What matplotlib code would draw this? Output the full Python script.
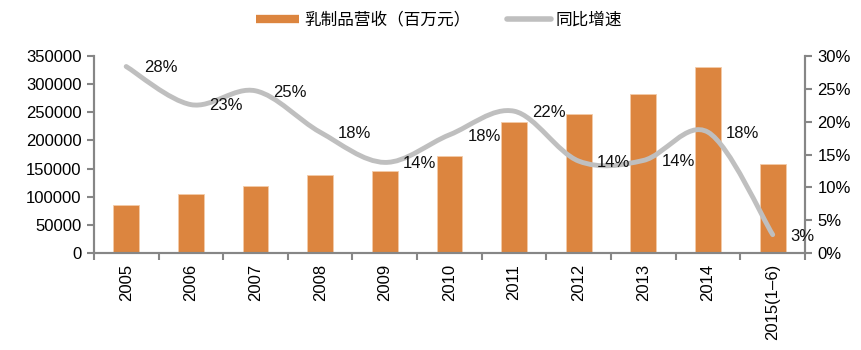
import matplotlib
matplotlib.use("Agg")
import matplotlib.pyplot as plt
from matplotlib.path import Path
from matplotlib.patches import PathPatch
from matplotlib.lines import Line2D
import numpy as np

plt.rcParams['font.family'] = ['Liberation Sans', 'Noto Sans CJK SC', 'DejaVu Sans']

# data
years = ['2005', '2006', '2007', '2008', '2009', '2010', '2011', '2012', '2013', '2014', '2015(1\u20136)']
revenue = [86000, 104000, 119000, 138000, 146000, 173000, 232000, 247000, 283000, 330000, 159000]
growth = [28.4, 22.6, 24.7, 18.4, 13.8, 18.0, 21.6, 14.0, 14.1, 18.4, 2.8]
growth_labels = ['28%', '23%', '25%', '18%', '14%', '18%', '22%', '14%', '14%', '18%', '3%']

bar_color = '#DC853F'
line_color = '#BFBFBF'
axis_color = '#868686'

fig = plt.figure(figsize=(8.61, 3.5), dpi=100)
ax = fig.add_axes([0.109, 0.277, 0.826, 0.563])
ax2 = ax.twinx()

x = np.arange(len(years))
ax.bar(x, revenue, width=0.4, color=bar_color, edgecolor='#F3CBA8', linewidth=0.6, zorder=2)
ax.set_xlim(-0.5, len(years) - 0.5)
ax.set_ylim(0, 350000)
ax.set_yticks(range(0, 350001, 50000))
ax.set_xticks(x)
ax.set_xticklabels(years, rotation=90)
ax.set_xticks(np.arange(-0.5, len(years), 1), minor=True)
ax.tick_params(axis='x', which='major', length=0, pad=8)
ax.tick_params(axis='x', which='minor', length=5, width=1.5, color=axis_color)
ax.tick_params(axis='y', length=5, width=1.5, color=axis_color, pad=4)
ax.tick_params(labelsize=12)

ax2.set_ylim(0, 30)
ax2.set_yticks(range(0, 31, 5))
ax2.set_yticklabels([f'{v}%' for v in range(0, 31, 5)])
ax2.tick_params(axis='y', length=5, width=1.5, color=axis_color, labelsize=12, pad=4)

for a in (ax, ax2):
    a.spines['top'].set_visible(False)
    for s in ('left', 'right', 'bottom'):
        a.spines[s].set_color(axis_color)
        a.spines[s].set_linewidth(1.5)

# smoothed line (cubic bezier through the points)
pts = np.column_stack([x, growth]).astype(float)
ext = np.vstack([pts[0], pts, pts[-1]])
verts = [tuple(pts[0])]
codes = [Path.MOVETO]
for i in range(len(pts) - 1):
    p0, p1, p2, p3 = ext[i], ext[i + 1], ext[i + 2], ext[i + 3]
    c1 = p1 + (p2 - p0) / 6
    c2 = p2 - (p3 - p1) / 6
    verts += [tuple(c1), tuple(c2), tuple(p2)]
    codes += [Path.CURVE4] * 3
ax2.add_patch(PathPatch(Path(verts, codes), fill=False, edgecolor=line_color,
                        linewidth=3.5, capstyle='round', zorder=3))

for xi, g, lab in zip(x, growth, growth_labels):
    ax2.annotate(lab, (xi, g), xytext=(13, -1), textcoords='offset points',
                 ha='left', va='center', fontsize=12, color='#111111')

handles = [Line2D([], [], color=bar_color, lw=6, solid_capstyle='butt'),
           Line2D([], [], color=line_color, lw=4, solid_capstyle='round')]
fig.legend(handles, ['乳制品营收（百万元）', '同比增速'], loc='upper center',
           bbox_to_anchor=(0.51, 1.01), ncol=2, frameon=False, fontsize=12,
           handlelength=2.6, handletextpad=0.3, columnspacing=2.2)

fig.savefig('out.png', dpi=100)
